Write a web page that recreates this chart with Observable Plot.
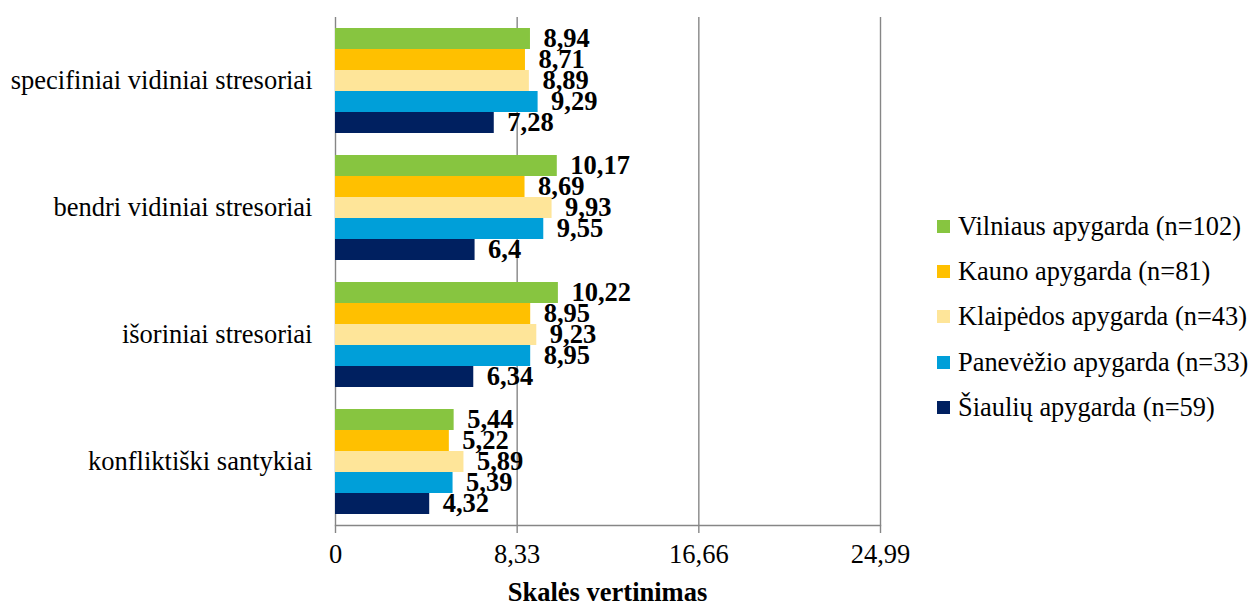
<!DOCTYPE html>
<html>
<head>
<meta charset="utf-8">
<script src="https://cdn.jsdelivr.net/npm/d3@7"></script>
<script src="https://cdn.jsdelivr.net/npm/@observablehq/plot@0.6"></script>
<style>
  html, body { margin: 0; padding: 0; background: white; }
  #wrap { position: relative; width: 1252px; height: 605px; font-family: 'Liberation Serif', 'Times New Roman', serif; }
  #legend { position: absolute; left: 937px; top: 204px; }
  .item { display: flex; align-items: center; height: 45.2px; font-size: 26.4px; color: #000; white-space: nowrap; }
  .sw { width: 13px; height: 13px; margin-right: 8px; flex: none; }
  #caption { position: absolute; left: 335px; width: 545px; top: 579px; text-align: center; font-weight: bold; font-size: 26.5px; line-height: 26px; }
</style>
</head>
<body>
<div id="wrap">
  <div id="chart"></div>
  <div id="legend"></div>
  <div id="caption"></div>
</div>
<script>
const categories = ["specifiniai vidiniai stresoriai", "bendri vidiniai stresoriai", "išoriniai stresoriai", "konfliktiški santykiai"];
const series = ["Vilniaus apygarda (n=102)", "Kauno apygarda (n=81)", "Klaipėdos apygarda (n=43)", "Panevėžio apygarda (n=33)", "Šiaulių apygarda (n=59)"];
const vilniusValues = [8.94, 10.17, 10.22, 5.44];
const kaunasValues = [8.71, 8.69, 8.95, 5.22];
const klaipedaValues = [8.89, 9.93, 9.23, 5.89];
const panevezysValues = [9.29, 9.55, 8.95, 5.39];
const siauliaiValues = [7.28, 6.4, 6.34, 4.32];
const seriesColors = ["#87c540", "#ffc000", "#fee599", "#009fd9", "#002060"];
const xTicks = [0, 8.33, 16.66, 24.99];
const xTitle = "Skalės vertinimas";

const valuesBySeries = [vilniusValues, kaunasValues, klaipedaValues, panevezysValues, siauliaiValues];
const data = [];
categories.forEach((c, i) => series.forEach((s, j) => data.push({category: c, series: s, value: valuesBySeries[j][i]})));
const fmt = v => String(v).replace(".", ",");
const grid = "#868686";

const chart = Plot.plot({
  width: 1252,
  height: 575,
  marginLeft: 335,
  marginRight: 372,
  marginTop: 16,
  marginBottom: 50,
  style: {fontFamily: "'Liberation Serif', 'Times New Roman', serif", fontSize: "26.5px", color: "black", background: "white"},
  x: {domain: [0, 24.99]},
  y: {domain: series, axis: null, paddingInner: 0, paddingOuter: 0.52},
  fy: {domain: categories, padding: 0},
  color: {domain: series, range: seriesColors},
  marks: [
    Plot.ruleX(xTicks.slice(1), {stroke: grid, strokeWidth: 1.4}),
    Plot.ruleX([0], {stroke: grid, strokeWidth: 1.4}),
    Plot.barX(data, {x: "value", y: "series", fy: "category", fill: "series"}),
    Plot.text(data, {x: "value", y: "series", fy: "category", text: d => fmt(d.value), textAnchor: "start", dx: 13, fontWeight: "bold", fontSize: 26.5, fill: "black"}),
    Plot.axisFy({anchor: "left", tickSize: 0, tickPadding: 23, fontSize: 26.5, label: null}),
    Plot.axisX(xTicks, {tickSize: 8, stroke: grid, strokeWidth: 1.4, tickPadding: 11, fontSize: 26.5, tickFormat: d => d === 0 ? "0" : d.toFixed(2).replace(".", ","), label: null}),
    Plot.frame({anchor: "bottom", stroke: grid, strokeWidth: 1.4, facetAnchor: "bottom"})
  ]
});
document.getElementById("chart").appendChild(chart);

const legend = document.getElementById("legend");
series.forEach((s, i) => {
  const row = document.createElement("div");
  row.className = "item";
  const sw = document.createElement("span");
  sw.className = "sw";
  sw.style.background = seriesColors[i];
  const t = document.createElement("span");
  t.textContent = s;
  row.appendChild(sw);
  row.appendChild(t);
  legend.appendChild(row);
});
document.getElementById("caption").textContent = xTitle;
</script>
</body>
</html>
